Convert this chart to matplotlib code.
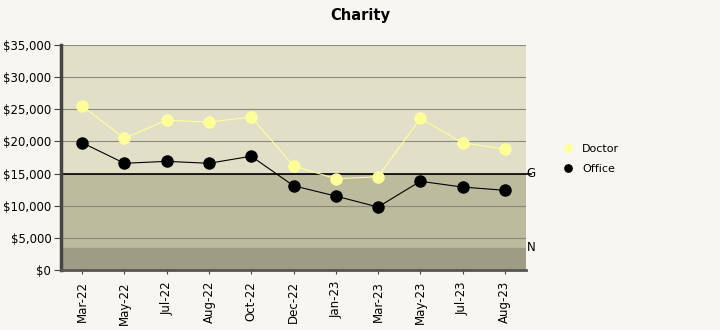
import numpy as np
import matplotlib.pyplot as plt
from matplotlib.ticker import FuncFormatter

months = ['Mar-22', 'May-22', 'Jul-22', 'Aug-22', 'Oct-22', 'Dec-22',
          'Jan-23', 'Mar-23', 'May-23', 'Jul-23', 'Aug-23']
doctor = [25500, 20500, 23300, 23000, 23800, 16200, 14200, 14500, 23600, 19800, 18800]
office = [19800, 16600, 16900, 16600, 17700, 13100, 11500, 9800, 13800, 12900, 12400]
goal = 15000
need = 3500

bg = '#f8f6f0'
fig = plt.figure(figsize=(7.2, 3.3), dpi=100, facecolor=bg)
ax = fig.add_axes([61/720, 60/330, 465/720, 225/330])
ax.set_facecolor(bg)

x = np.arange(len(months))
ax.set_xlim(-0.5, len(months) - 0.5)
ax.set_ylim(0, 35000)

# background bands
ax.axhspan(goal, 35000, color='#e2dfc8', zorder=0)
ax.axhspan(need, goal, color='#bcbb9e', zorder=0)
ax.axhspan(0, need, color='#9e9c84', zorder=0)
ax.grid(axis='y', color='#8a8a7a', linewidth=0.8, zorder=1)
ax.axhline(goal, color='black', linewidth=1.2, zorder=2, xmax=1.01, clip_on=False)
ax.text(len(months) - 0.48, goal, 'G', va='center', ha='left', fontsize=8.5)
ax.text(len(months) - 0.48, need, 'N', va='center', ha='left', fontsize=8.5)

ax.plot(x, doctor, color='#ffff99', linewidth=0.8, marker='o', markersize=9,
        markeredgewidth=0, label='Doctor', zorder=3)
ax.plot(x, office, color='black', linewidth=0.8, marker='o', markersize=9,
        markeredgewidth=0, label='Office', zorder=3)

ax.set_xticks(x)
ax.set_xticklabels(months, rotation=90, fontsize=8.5)
ax.set_yticks(np.arange(0, 35001, 5000))
ax.yaxis.set_major_formatter(FuncFormatter(lambda v, p: '${:,.0f}'.format(v)))
ax.tick_params(axis='y', labelsize=8.5, length=5, pad=2, color='#444444')
ax.tick_params(axis='x', length=3, pad=5, color='#444444')
for s in ['top', 'right']:
    ax.spines[s].set_visible(False)
ax.spines['left'].set_linewidth(2.5)
ax.spines['left'].set_color('#444444')
ax.spines['bottom'].set_linewidth(2)
ax.spines['bottom'].set_color('#555555')

fig.text(0.5, 0.94, 'Charity', ha='center', fontsize=10.5, fontweight='bold')
leg = fig.legend(loc='upper left', bbox_to_anchor=(552/720, 1 - 134/330), frameon=False,
                 fontsize=8, handletextpad=0.8, labelspacing=0.9, handlelength=1.0,
                 markerscale=0.7)
for h in leg.legend_handles:
    h.set_linestyle('none')

fig.savefig('out.png', dpi=100, facecolor=bg)
